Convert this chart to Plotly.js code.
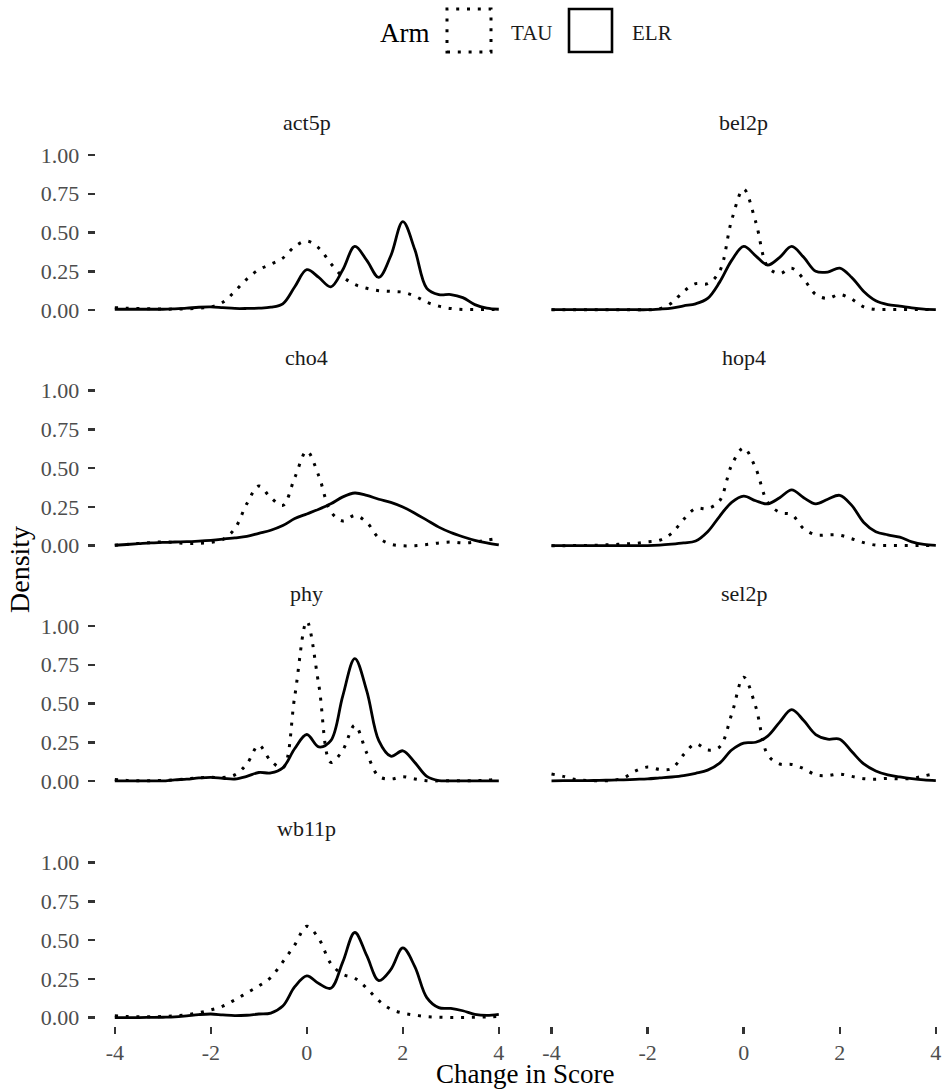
<!DOCTYPE html>
<html>
<head>
<meta charset="utf-8">
<script src="https://cdn.plot.ly/plotly-3.0.1.min.js"></script>
<style>html,body{margin:0;padding:0;background:#fff;}#chart{width:944px;height:1092px;}</style>
</head>
<body>
<div id="chart"></div>
<script>
// ---- data ----
const xGrid = [-4,-3.75,-3.5,-3.25,-3,-2.75,-2.5,-2.25,-2,-1.75,-1.5,-1.25,-1,-0.75,-0.5,-0.25,0,0.25,0.5,0.75,1,1.25,1.5,1.75,2,2.25,2.5,2.75,3,3.25,3.5,3.75,4];
const panels = ["act5p","bel2p","cho4","hop4","phy","sel2p","wb11p"];
const arms = ["TAU","ELR"];
const xTickVals = [-4,-2,0,2,4];
const xTickText = ["-4","-2","0","2","4"];
const yTickVals = [0,0.25,0.5,0.75,1];
const yTickText = ["0.00","0.25","0.50","0.75","1.00"];

const act5p_TAU = [0.015,0.012,0.01,0.008,0.006,0.006,0.008,0.012,0.02,0.05,0.12,0.20,0.26,0.295,0.335,0.41,0.445,0.40,0.30,0.215,0.165,0.14,0.125,0.12,0.115,0.09,0.05,0.025,0.01,0.004,0.003,0.003,0.003];
const act5p_ELR = [0.005,0.005,0.005,0.005,0.005,0.008,0.012,0.018,0.02,0.015,0.01,0.01,0.012,0.018,0.04,0.15,0.26,0.21,0.15,0.26,0.41,0.32,0.21,0.35,0.57,0.39,0.14,0.10,0.10,0.08,0.035,0.012,0.005];
const bel2p_TAU = [0.002,0.002,0.002,0.002,0.002,0.002,0.002,0.002,0.002,0.008,0.045,0.12,0.17,0.17,0.25,0.58,0.78,0.57,0.28,0.235,0.27,0.20,0.10,0.075,0.10,0.07,0.02,0.004,0.003,0.003,0.003,0.003,0.003];
const bel2p_ELR = [0.002,0.002,0.002,0.002,0.002,0.002,0.002,0.002,0.002,0.006,0.012,0.027,0.04,0.075,0.18,0.32,0.41,0.35,0.29,0.34,0.41,0.34,0.25,0.245,0.27,0.21,0.12,0.06,0.035,0.025,0.014,0.006,0.003];
const cho4_TAU = [0.003,0.008,0.015,0.02,0.025,0.02,0.014,0.016,0.022,0.04,0.11,0.27,0.385,0.31,0.26,0.44,0.61,0.45,0.22,0.16,0.195,0.15,0.05,0.01,0.0,0.0,0.008,0.018,0.024,0.018,0.024,0.036,0.048];
const cho4_ELR = [0.003,0.008,0.013,0.018,0.021,0.024,0.026,0.03,0.035,0.042,0.05,0.06,0.08,0.1,0.13,0.175,0.205,0.235,0.27,0.315,0.34,0.325,0.30,0.28,0.25,0.21,0.165,0.12,0.085,0.058,0.035,0.018,0.005];
const hop4_TAU = [0,0,0.001,0.002,0.004,0.007,0.011,0.015,0.025,0.035,0.08,0.17,0.24,0.24,0.29,0.52,0.63,0.50,0.28,0.215,0.20,0.11,0.07,0.07,0.068,0.045,0.02,0.004,0.002,0.002,0.002,0.002,0.002];
const hop4_ELR = [0.001,0.001,0.001,0.001,0.001,0.001,0.001,0.001,0.001,0.004,0.01,0.018,0.03,0.09,0.19,0.28,0.32,0.29,0.27,0.31,0.36,0.31,0.27,0.30,0.325,0.26,0.15,0.09,0.07,0.055,0.025,0.008,0.002];
const phy_TAU = [0.01,0.004,0.002,0.002,0.004,0.008,0.014,0.02,0.024,0.022,0.04,0.11,0.23,0.13,0.085,0.55,1.03,0.62,0.12,0.20,0.36,0.18,0.03,0.013,0.028,0.013,0.002,0.001,0.001,0.001,0.002,0.005,0.012];
const phy_ELR = [0.001,0.001,0.001,0.001,0.001,0.008,0.012,0.02,0.024,0.018,0.013,0.03,0.055,0.052,0.085,0.21,0.30,0.22,0.26,0.55,0.79,0.58,0.26,0.16,0.195,0.12,0.03,0.003,0.001,0.001,0.001,0.001,0.001];
const sel2p_TAU = [0.045,0.03,0.01,0.003,0.002,0.004,0.02,0.065,0.09,0.075,0.08,0.17,0.24,0.20,0.22,0.43,0.67,0.48,0.17,0.11,0.107,0.08,0.04,0.035,0.045,0.03,0.015,0.012,0.017,0.014,0.017,0.033,0.048];
const sel2p_ELR = [0.001,0.002,0.002,0.003,0.004,0.006,0.008,0.011,0.014,0.02,0.026,0.035,0.05,0.07,0.115,0.2,0.245,0.25,0.29,0.38,0.46,0.39,0.30,0.27,0.27,0.19,0.11,0.065,0.04,0.026,0.015,0.007,0.003];
const wb11p_TAU = [0.012,0.008,0.006,0.006,0.008,0.012,0.02,0.033,0.05,0.075,0.115,0.16,0.205,0.26,0.36,0.47,0.59,0.51,0.35,0.28,0.255,0.19,0.11,0.055,0.03,0.017,0.007,0.003,0.002,0.002,0.003,0.005,0.008];
const wb11p_ELR = [0.001,0.001,0.001,0.002,0.003,0.005,0.012,0.02,0.024,0.018,0.013,0.016,0.024,0.03,0.075,0.2,0.27,0.22,0.19,0.36,0.55,0.40,0.24,0.31,0.45,0.33,0.13,0.065,0.06,0.045,0.022,0.015,0.022];

const series = {
  act5p: {TAU: act5p_TAU, ELR: act5p_ELR},
  bel2p: {TAU: bel2p_TAU, ELR: bel2p_ELR},
  cho4:  {TAU: cho4_TAU,  ELR: cho4_ELR},
  hop4:  {TAU: hop4_TAU,  ELR: hop4_ELR},
  phy:   {TAU: phy_TAU,   ELR: phy_ELR},
  sel2p: {TAU: sel2p_TAU, ELR: sel2p_ELR},
  wb11p: {TAU: wb11p_TAU, ELR: wb11p_ELR}
};

// ---- layout geometry (pixels -> paper) ----
const W = 944, H = 1092;
const px = v => v / W;
const py = v => 1 - v / H;
const FONT = '"Liberation Serif","Times New Roman",Times,serif';

const colDomains = [[px(95.6), px(518)], [px(532.3), 1]];
const colRanges = [[-4.4, 4.4], [-4.4, 4.17]];
const rowPx = [[318, 142.4], [553.7, 378.1], [789, 613.4], [1025.7, 850.1]];
const rowDomains = rowPx.map(r => [py(r[0]), py(r[1])]);
const stripY = [122, 357.5, 593, 828.5];
const yRange = [-0.0515, 1.0815];

const lineStyles = {
  TAU: {color: '#000', width: 3, dash: '3px,7.8px', shape: 'spline', smoothing: 1},
  ELR: {color: '#000', width: 2.8, dash: 'solid', shape: 'spline', smoothing: 1}
};

const traces = [];
const layout = {
  width: W, height: H,
  margin: {l: 0, r: 0, t: 0, b: 0},
  paper_bgcolor: '#fff', plot_bgcolor: 'rgba(0,0,0,0)',
  font: {family: FONT, color: '#1a1a1a'},
  showlegend: false,
  annotations: [],
  shapes: []
};

const tickFont = {family: FONT, size: 22, color: '#4d4d4d'};

panels.forEach((name, i) => {
  const n = i + 1;
  const col = i % 2, row = Math.floor(i / 2);
  const xa = 'x' + n, ya = 'y' + n;
  arms.forEach(arm => {
    traces.push({
      type: 'scatter', mode: 'lines', name: arm,
      x: xGrid, y: series[name][arm],
      xaxis: xa, yaxis: ya,
      line: lineStyles[arm],
      hoverinfo: 'skip'
    });
  });
  const showX = (name === 'wb11p');
  layout['xaxis' + n] = {
    domain: colDomains[col], range: colRanges[col], anchor: ya,
    showgrid: false, zeroline: false, showline: false,
    tickvals: xTickVals, ticktext: xTickText,
    ticks: showX ? 'outside' : '', ticklen: 7, tickwidth: 2.5, tickcolor: '#333',
    showticklabels: showX, tickfont: tickFont, fixedrange: true
  };
  layout['yaxis' + n] = {
    domain: rowDomains[row], range: yRange, anchor: xa,
    showgrid: false, zeroline: false, showline: false,
    tickvals: yTickVals, ticktext: yTickText,
    ticks: col === 0 ? 'outside' : '', ticklen: 7, tickwidth: 2.5, tickcolor: '#333',
    showticklabels: col === 0, tickfont: tickFont, ticklabelstandoff: 4, fixedrange: true
  };
  layout.annotations.push({
    text: name, xref: 'paper', yref: 'paper',
    x: (colDomains[col][0] + (col === 0 ? colDomains[col][1] : px(954.7))) / 2,
    y: py(stripY[row]), xanchor: 'center', yanchor: 'middle',
    showarrow: false, font: {family: FONT, size: 22, color: '#1a1a1a'}
  });
});

// x axis for the right column, drawn at the bottom row level
layout.xaxis8 = {
  domain: colDomains[1], range: colRanges[1], anchor: 'y7',
  showgrid: false, zeroline: false, showline: false,
  tickvals: xTickVals, ticktext: xTickText,
  ticks: 'outside', ticklen: 7, tickwidth: 2.5, tickcolor: '#333',
  showticklabels: true, tickfont: tickFont, fixedrange: true
};
traces.push({type: 'scatter', mode: 'lines', x: [], y: [], xaxis: 'x8', yaxis: 'y7', hoverinfo: 'skip', showlegend: false});

// axis titles
layout.annotations.push({
  text: 'Change in Score', xref: 'paper', yref: 'paper', x: px(525), y: py(1074),
  xanchor: 'center', yanchor: 'middle', showarrow: false,
  font: {family: FONT, size: 27, color: '#000'}
});
layout.annotations.push({
  text: 'Density', xref: 'paper', yref: 'paper', x: px(19), y: py(570),
  xanchor: 'center', yanchor: 'middle', textangle: -90, showarrow: false,
  font: {family: FONT, size: 28, color: '#000'}
});

// legend (ggplot-style keys)
layout.annotations.push({
  text: 'Arm', xref: 'paper', yref: 'paper', x: px(405), y: py(33),
  xanchor: 'center', yanchor: 'middle', showarrow: false,
  font: {family: FONT, size: 27, color: '#000'}
});
const legendKeys = [
  {arm: 'TAU', x0: 447, x1: 491, tx: 531},
  {arm: 'ELR', x0: 569, x1: 612, tx: 652}
];
legendKeys.forEach(k => {
  layout.shapes.push({
    type: 'rect', xref: 'paper', yref: 'paper',
    x0: px(k.x0), x1: px(k.x1), y0: py(52), y1: py(9),
    line: {color: '#000', width: k.arm === 'TAU' ? 3 : 2.6, dash: k.arm === 'TAU' ? '3px,7.8px' : 'solid'},
    fillcolor: 'rgba(0,0,0,0)'
  });
  layout.annotations.push({
    text: k.arm, xref: 'paper', yref: 'paper', x: px(k.tx), y: py(33),
    xanchor: 'center', yanchor: 'middle', showarrow: false,
    font: {family: FONT, size: 21, color: '#1a1a1a'}
  });
});

Plotly.newPlot('chart', traces, layout, {staticPlot: true, displayModeBar: false});
</script>
</body>
</html>
